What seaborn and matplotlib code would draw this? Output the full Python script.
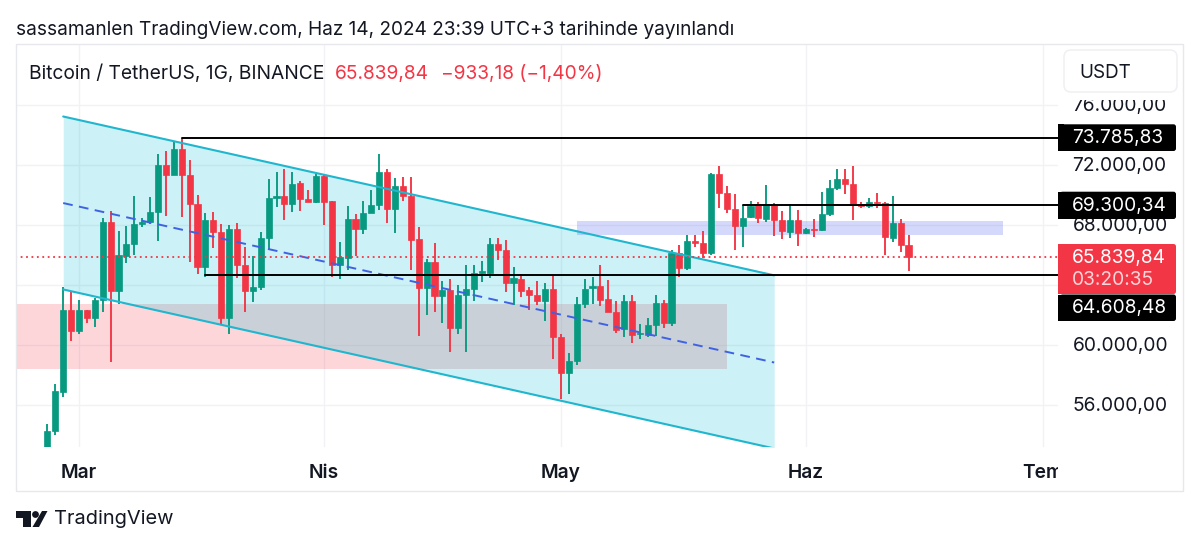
import numpy as np
import pandas as pd
import matplotlib
matplotlib.use("Agg")
import matplotlib.pyplot as plt
import matplotlib.dates as mdates
from matplotlib.patches import Rectangle, FancyBboxPatch, Polygon, Circle
import seaborn as sns

# OHLC in thousand USDT, one candle per day from 26 Feb 2024
start_date = "2024-02-26"
open_ = [51.70,54.22,56.82,62.31,60.93,62.27,61.78,62.98,68.16,63.56,65.93,66.69,68.04,68.18,68.82,72.00,71.33,73.04,71.31,69.38,65.16,68.31,67.51,61.78,67.73,65.33,63.60,63.82,67.11,69.78,69.91,69.36,70.76,69.73,69.47,71.22,
         69.56,65.33,65.78,68.38,67.69,68.76,69.27,71.53,69.02,70.56,69.93,67.02,63.76,65.53,63.22,63.64,61.07,63.29,63.67,64.78,64.78,66.71,66.31,64.13,64.38,63.64,63.33,62.93,63.73,
         60.53,58.13,58.87,62.67,63.76,63.87,63.04,62.18,61.02,62.93,60.69,60.64,61.29,62.78,61.42,66.09,65.07,66.93,66.80,66.13,71.38,70.09,69.04,67.87,68.47,69.27,68.38,69.31,68.31,67.53,68.27,
         67.42,67.69,67.62,68.71,70.44,71.04,70.71,69.31,69.22,69.53,69.44,67.13,68.13,66.64]
high = [54.71,57.38,63.82,63.49,62.98,62.31,63.11,68.42,68.93,67.56,67.87,69.91,68.44,69.82,72.71,72.93,73.56,73.78,72.33,70.00,68.80,68.82,68.04,68.00,68.13,66.53,65.89,67.49,71.04,71.49,71.69,71.47,70.89,70.27,71.38,71.27,
        69.60,66.82,69.22,68.71,69.60,70.27,72.71,71.71,71.11,71.20,71.16,67.82,65.71,66.76,64.22,64.38,63.98,65.31,65.31,65.56,67.11,67.09,66.98,65.20,64.71,63.82,64.22,64.11,64.60,
        60.71,59.42,63.20,64.38,64.49,65.33,64.27,62.89,63.31,63.33,61.38,61.78,63.31,63.00,66.31,66.64,67.33,67.27,67.60,71.44,71.93,70.58,70.04,69.27,69.56,69.49,70.64,69.44,68.87,69.38,68.98,
        67.80,68.38,70.20,70.98,71.71,71.67,71.93,69.49,69.78,70.11,69.53,69.93,68.38,67.27]
low = [50.90,54.00,56.53,60.22,60.67,61.42,61.20,62.16,58.82,62.67,65.42,65.98,67.82,68.04,66.93,68.56,71.31,68.49,65.49,64.71,64.49,66.44,61.38,60.67,64.44,62.16,62.84,63.64,66.31,69.20,68.27,68.82,68.93,69.49,69.44,68.00,
       64.49,64.38,64.98,65.87,67.38,68.76,69.00,68.09,67.42,69.56,65.00,60.56,61.98,62.16,61.44,59.53,60.67,59.49,62.93,64.16,64.44,65.64,63.49,62.64,63.20,62.27,62.64,61.60,59.04,
       56.36,56.71,58.64,62.44,62.71,62.60,62.16,60.78,60.53,60.09,60.38,60.53,60.58,61.07,61.22,64.49,65.00,66.49,65.78,66.00,69.11,68.78,66.27,66.49,68.42,68.09,68.20,67.22,67.04,67.07,66.56,
       67.38,67.16,67.60,68.55,70.33,70.04,68.33,69.09,69.09,69.11,65.98,66.82,66.20,64.93]
close = [54.22,56.87,62.31,60.93,62.27,61.78,62.98,68.16,63.56,65.96,66.69,68.04,68.18,68.84,72.00,71.33,73.04,71.31,69.36,65.16,68.31,67.49,61.78,67.73,65.33,63.60,63.84,67.13,69.80,69.91,69.36,70.73,69.73,69.49,71.22,69.53,
         65.33,65.82,68.38,67.69,68.78,69.29,71.53,69.02,70.56,69.89,67.00,63.76,65.53,63.22,63.64,61.07,63.33,63.67,64.80,64.87,66.71,66.29,64.13,64.40,63.60,63.27,62.93,63.73,60.49,
         58.13,58.91,62.71,63.73,63.87,63.00,62.16,60.98,62.93,60.62,60.80,61.33,62.76,61.42,66.09,65.09,66.93,66.78,66.13,71.38,70.09,69.04,67.87,68.44,69.24,68.42,69.31,68.31,67.56,68.27,67.42,
         67.69,67.64,68.71,70.44,71.04,70.71,69.27,69.22,69.53,69.44,67.16,68.13,66.62,65.84]

# Drawings (thousand USDT)
channel_dates = ["2024-02-28", "2024-05-28"]
channel_upper = [75.20, 64.61]
channel_mid = [69.43, 58.80]
channel_lower = [63.67, 53.07]
red_zone = ("2024-02-18", "2024-05-22", 58.40, 62.73)
blue_zone = ("2024-05-03", "2024-06-26", 67.27, 68.20)
level_starts = ["2024-03-14", "2024-05-24", "2024-03-17"]
level_values = [73.78583, 69.30034, 64.60848]
level_labels = ["73.785,83", "69.300,34", "64.608,48"]
last_price = 65.83984

price_ticks = [56, 60, 64, 68, 72, 76]
# the 64.000,00 label sits behind the price tags in the reference
price_labels = ["56.000,00", "60.000,00", "", "68.000,00", "72.000,00", "76.000,00"]
month_dates = ["2024-03-01", "2024-04-01", "2024-05-01", "2024-06-01", "2024-07-01"]
month_labels = ["Mar", "Nis", "May", "Haz", "Tem"]

GREEN, RED, INK = "#089981", "#F23645", "#131722"
GRID = "#F0F2F6"
FRAME = "#E6E8EC"

sns.set_theme(style="white")
plt.rcParams["font.family"] = ["Inter", "DejaVu Sans"]

W, H = 1200, 548
fig = plt.figure(figsize=(W / 100, H / 100), dpi=100, facecolor="white")
L, R, T, B = 16, 1058, 44, 447
ax = fig.add_axes([L / W, 1 - B / H, (R - L) / W, (B - T) / H])

num = lambda s: mdates.date2num(pd.to_datetime(s))
dates = mdates.date2num(pd.date_range(start_date, periods=len(open_)))
df = pd.DataFrame({"d": dates, "o": open_, "h": high, "l": low, "c": close})
df["up"] = df.c >= df.o
colors = np.where(df.up, GREEN, RED)

# zones
ax.add_patch(Rectangle((num(red_zone[0]), red_zone[2]), num(red_zone[1]) - num(red_zone[0]),
                       red_zone[3] - red_zone[2], fc=RED, alpha=0.2, lw=0, zorder=1))
cx = num(channel_dates)
ax.fill_between(cx, channel_lower, channel_upper, color="#00BCD4", alpha=0.2, lw=0, zorder=1.2)
ax.add_patch(Rectangle((num(blue_zone[0]), blue_zone[2]), num(blue_zone[1]) - num(blue_zone[0]),
                       blue_zone[3] - blue_zone[2], fc="#3F51EE", alpha=0.22, lw=0, zorder=1.4))

# candles
ax.vlines(df.d, df.l, df.h, colors=colors, lw=1.35, zorder=3)
ax.bar(df.d, (df.c - df.o).abs(), bottom=df[["o", "c"]].min(axis=1), width=0.76,
       color=colors, edgecolor=colors, lw=0.5, zorder=3.1)

# lines
sns.lineplot(x=cx, y=channel_upper, ax=ax, color="#1FB6CE", lw=1.5, zorder=4)
sns.lineplot(x=cx, y=channel_lower, ax=ax, color="#1FB6CE", lw=1.5, zorder=4)
sns.lineplot(x=cx, y=channel_mid, ax=ax, color="#3F62E4", lw=1.4, linestyle=(0, (5, 3.3)), zorder=4)
x0, x1 = num("2024-02-18"), num("2024-07-03")
sns.lineplot(x=[x0, x1], y=[last_price, last_price], ax=ax, color=RED, lw=1.3,
             linestyle=(0, (1.0, 2.0)), zorder=4)
for s, v in zip(level_starts, level_values):
    sns.lineplot(x=[num(s), x1], y=[v, v], ax=ax, color="black", lw=1.4, zorder=4.2)

# scales: 7.9 px per day, 15 px per thousand
d0 = num("2024-03-01")
Y72 = 164.5
ax.set_xlim(d0 + (L - 79) / 7.9, d0 + (R - 79) / 7.9)
ax.set_ylim(72 - (B - Y72) * 4 / 60, 72 + (Y72 - T) * 4 / 60)
ax.set_axisbelow(True)
ax.grid(True, color=GRID, lw=1.0)
ax.set_xticks(num(month_dates))
ax.set_xticklabels(month_labels, fontsize=13.8, fontweight="semibold", color=INK)
ax.yaxis.tick_right()
ax.set_yticks(price_ticks)
ax.set_yticklabels(price_labels, fontsize=13.8, color=INK)
ax.tick_params(axis="x", length=0, pad=12)
ax.tick_params(axis="y", length=0, pad=10.5)
ax.set_xlabel("")
ax.set_ylabel("")
for s in ax.spines.values():
    s.set_visible(False)

# overlay in pixel coordinates for the chart's chrome
ov = fig.add_axes([0, 0, 1, 1], facecolor="none")
ov.set_xlim(0, W)
ov.set_ylim(H, 0)
ov.axis("off")

ov.add_patch(Rectangle((R, 460), 40, 30, fc="white", lw=0, zorder=1))   # clips "Tem"
ov.add_patch(Rectangle((R + 1, T + 1), 122, 54.5, fc="white", lw=0, zorder=1))  # clips top price
ov.add_patch(Rectangle((L, T), 1183 - L, 491 - T, fc="none", ec=FRAME, lw=1, zorder=2))
ov.add_patch(FancyBboxPatch((1066, 52), 109, 38, boxstyle="round,pad=2,rounding_size=7",
                            fc="white", ec="#EEF0F3", lw=1.1, zorder=3))
ov.text(1079, 72.5, "USDT", fontsize=13.6, color=INK, va="center", zorder=4)


def tag(y0, y1, color):
    ov.add_patch(FancyBboxPatch((1060, y0), 116, y1 - y0, boxstyle="round,pad=0,rounding_size=2.5",
                                fc=color, lw=0, zorder=3))
    ov.add_patch(Rectangle((R, y0), 6, y1 - y0, fc=color, lw=0, zorder=3))


tag(124.3, 151, "black")
tag(191.7, 219, "black")
tag(244, 294, RED)
tag(294.5, 321, "black")
for lab, y in zip(level_labels, [138, 205.5, 307.5]):
    ov.text(1072, y, lab, fontsize=13.8, color="white", va="center", zorder=4)
ov.text(1072, 258, "65.839,84", fontsize=13.8, color="white", va="center", zorder=4)
ov.text(1072, 280, "03:20:35", fontsize=13.8, color="#FBD5D8", va="center", zorder=4)

ov.text(16, 30, "sassamanlen TradingView.com, Haz 14, 2024 23:39 UTC+3 tarihinde yayınlandı",
        fontsize=13.7, color="#131722", va="center")
ov.text(29, 73.5, "Bitcoin / TetherUS, 1G, BINANCE", fontsize=13.85, color=INK, va="center")
ov.text(335, 73.5, "65.839,84", fontsize=13.8, color=RED, va="center")
ov.text(441, 73.5, "\u2212933,18 (\u22121,40%)", fontsize=13.8, color=RED, va="center")

# logo and brand
logo = "#131722"
ov.add_patch(Polygon([(16, 511), (31, 511), (31, 527), (23, 527), (23, 518), (16, 518)], fc=logo, lw=0))
ov.add_patch(Circle((35.5, 514.5), 3.4, fc=logo, lw=0))
ov.add_patch(Polygon([(42, 511), (47.5, 511), (39, 527), (32.5, 527)], fc=logo, lw=0))
ov.text(54, 519.5, "TradingView", fontsize=14.4, color=INK, va="center")

fig.savefig("out.png", dpi=100)
